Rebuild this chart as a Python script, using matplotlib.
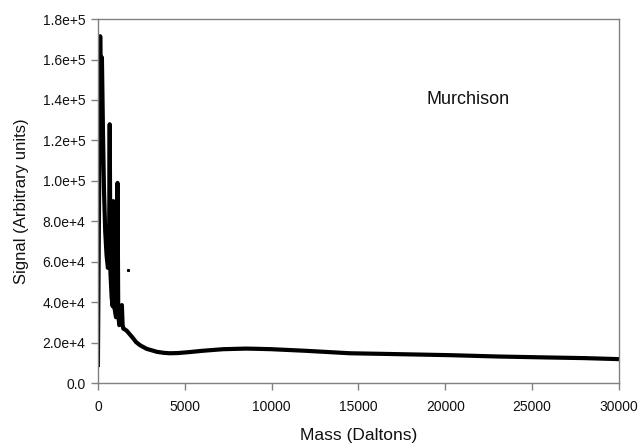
import matplotlib
matplotlib.use("Agg")
import matplotlib.pyplot as plt
from matplotlib.ticker import FuncFormatter

plt.rcParams['font.family'] = ['Liberation Sans', 'DejaVu Sans']

# Mass (Daltons) and signal (arbitrary units)
mass = [0, 40, 90, 130, 180, 230, 290, 350, 420, 500, 575, 640, 680, 720,
        790, 850, 890, 940, 1040, 1100, 1130, 1170, 1230, 1330, 1380, 1420,
        1460, 1560, 1650, 1800, 2000, 2200, 2420, 2800, 3000, 3400, 3800,
        4150, 4600, 5300, 6000, 7200, 8500, 9150, 10000, 12000, 14500,
        17000, 20300, 23000, 26000, 28000, 30000]
signal = [9000, 60000, 120000, 171500, 135000, 161000, 125000, 95000, 75000,
          63000, 57000, 60000, 128000, 55000, 42500, 38000, 90000, 38000,
          32600, 34000, 99000, 34000, 28700, 30000, 38600, 29000, 27000,
          26500, 26000, 24500, 22500, 20300, 18800, 17000, 16500, 15500,
          15000, 14800, 14900, 15400, 16000, 16800, 17100, 17000, 16800,
          16000, 14800, 14400, 13850, 13200, 12700, 12400, 11900]

# isolated stray point
stray_mass = [1750]
stray_signal = [55900]

label_text = "Murchison"
label_pos = (21300, 140400)

fig = plt.figure(figsize=(6.4, 4.43), dpi=100)
ax = fig.add_axes([0.153, 0.135, 0.814, 0.822])

ax.plot(mass, signal, color='black', linewidth=3.0, solid_joinstyle='round')
ax.plot(stray_mass, stray_signal, 's', color='black', markersize=1.2)

ax.set_xlim(0, 30000)
ax.set_ylim(0, 180000)
ax.set_xticks(range(0, 30001, 5000))
ax.set_yticks(range(0, 180001, 20000))

def yfmt(v, pos):
    if v == 0:
        return "0.0"
    s = "%.1e" % v
    mant, exp = s.split("e")
    return "%se+%d" % (mant, int(exp))

ax.yaxis.set_major_formatter(FuncFormatter(yfmt))

for sp in ax.spines.values():
    sp.set_color('#808080')
    sp.set_linewidth(1.0)

ax.tick_params(axis='both', direction='out', length=5, width=1.0,
               color='#808080', labelsize=10, labelcolor='#111111')
ax.tick_params(axis='y', pad=4)
ax.tick_params(axis='x', pad=7)

ax.set_xlabel("Mass (Daltons)", fontsize=12.5, color='#111111', labelpad=10)
ax.set_ylabel("Signal (Arbitrary units)", fontsize=12, color='#111111', labelpad=10)

ax.text(label_pos[0], label_pos[1], label_text, fontsize=13,
        ha='center', va='center', color='#111111')

fig.savefig("out.png", dpi=100)
